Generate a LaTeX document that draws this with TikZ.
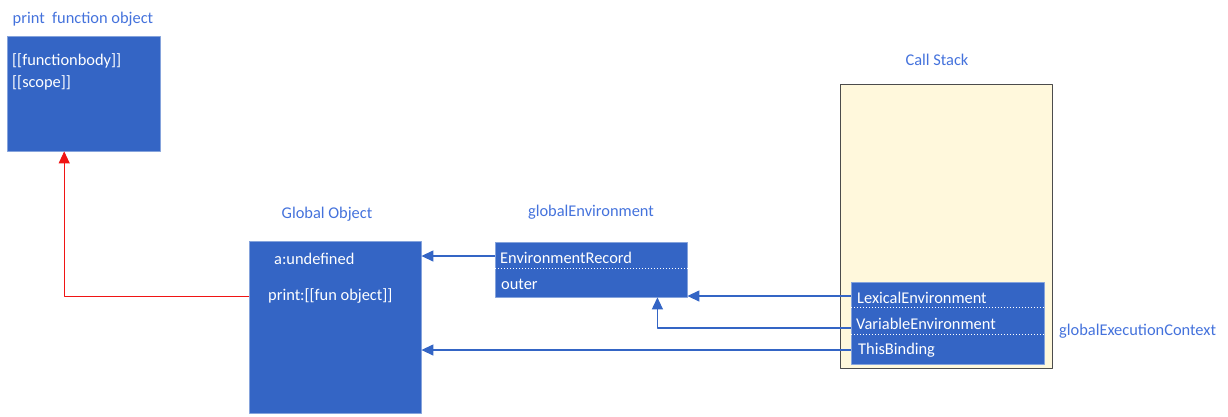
\documentclass[tikz,border=0pt]{standalone}
\usepackage{fontspec}
\setmainfont{Carlito}
\usetikzlibrary{arrows.meta}
\definecolor{boxblue}{RGB}{52,101,197}
\definecolor{labelblue}{RGB}{68,114,220}
\definecolor{stackfill}{RGB}{255,248,220}
\definecolor{arrowred}{RGB}{240,20,20}
\begin{document}
\begin{tikzpicture}[x=1pt,y=-1pt,>={Triangle[length=12pt,width=11pt]},line join=round,
		font=\fontsize{16.4}{19}\selectfont,
		blk/.style={draw=boxblue!60!white,fill=boxblue,anchor=north west,inner sep=0pt},
		lbl/.style={text=labelblue},
		row/.style={text=white,anchor=west,inner sep=0pt},
		sep/.style={white,dotted,line width=1pt},
		link/.style={->,draw=boxblue,line width=1.3pt}]
		\useasboundingbox (0,0) rectangle (1228,416);
		% boxes
		\node[blk,minimum width=153pt,minimum height=115pt] (fobj) at (7,36) {};
		\node[blk,minimum width=172pt,minimum height=172pt] (gobj) at (249,241) {};
		\node[blk,minimum width=192pt,minimum height=55pt] (genv) at (495,242) {};
		\node[draw=black!70,fill=stackfill,line width=1pt,anchor=north west,inner sep=0pt,
			minimum width=212pt,minimum height=284pt] (stack) at (840,84) {};
		\node[blk,minimum width=193pt,minimum height=82pt] (ctx) at (851,282) {};
		\draw[sep] ([yshift=-26pt]genv.north west)--([yshift=-26pt]genv.north east);
		\draw[sep] ([yshift=-25pt]ctx.north west)--([yshift=-25pt]ctx.north east);
		\draw[sep] ([yshift=-52pt]ctx.north west)--([yshift=-52pt]ctx.north east);
		% titles
		\node[lbl] (tfobj) at (83,19) {print\ \ function object};
		\node[lbl] (tgobj) at (327,214) {Global Object};
		\node[lbl] (tgenv) at (591,212) {globalEnvironment};
		\node[lbl] (tstack) at (937,60) {Call Stack};
		\node[lbl,anchor=west,inner sep=0pt] (tctx) at (1059,331) {globalExecutionContext};
		% rows
		\node[row] (body) at (12,61) {[[functionbody]]};
		\node[row] (scp) at (12,83) {[[scope]]};
		\node[row] (aund) at (274,259) {a:undefined};
		\node[row] (prt) at (268,296) {print:[[fun object]]};
		\node[row] (rec) at (500,258) {EnvironmentRecord};
		\node[row] (outr) at (501,284) {outer};
		\node[row] (lex) at (857,298) {LexicalEnvironment};
		\node[row] (var) at (856,324) {VariableEnvironment};
		\node[row] (this) at (858,350) {ThisBinding};
		% links
		\draw[link] (genv.west |- 0,256)--(gobj.east |- 0,256);
		\draw[link] (ctx.west |- 0,296)--(genv.east |- 0,296);
		\draw[link] (ctx.west |- 0,328)-|([xshift=-30pt]genv.south east);
		\draw[link] (ctx.west |- 0,350)--(gobj.east |- 0,350);
		\draw[->,draw=arrowred,line width=1pt] (gobj.west |- prt.west)-|([xshift=-19.5pt]fobj.south);
	\end{tikzpicture}
\end{document}
